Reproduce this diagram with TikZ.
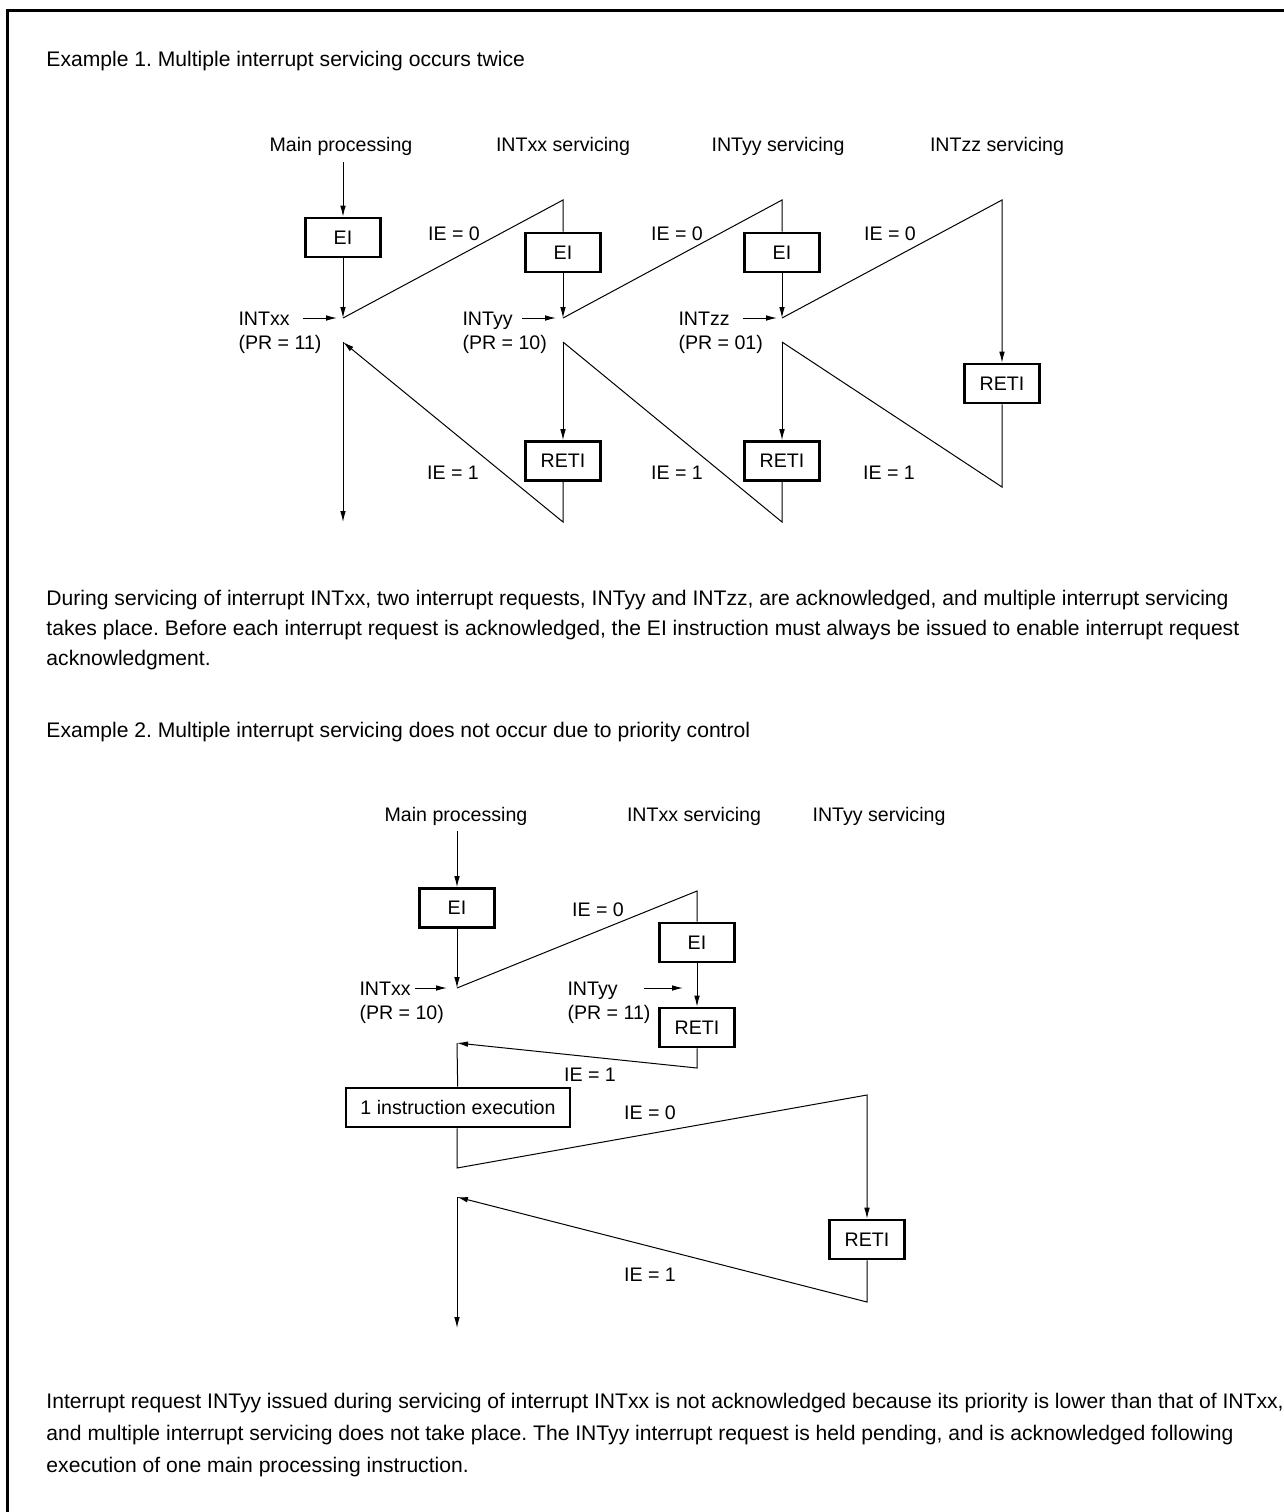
\documentclass[tikz,border=0pt]{standalone}
\usepackage{fontspec}
\setmainfont{Liberation Sans}
\usetikzlibrary{arrows.meta, positioning}

\begin{document}
\frenchspacing
\begin{tikzpicture}[x=0.5pt, y=-0.5pt, font=\fontsize{9.8}{15}\selectfont,
    line width=0.5pt, >={Latex[length=5.5pt,width=2.8pt]},
    instr/.style={draw, line width=1.3pt, minimum width=37.5pt, minimum height=19.5pt, inner sep=0pt},
    head/.style={anchor=base, inner sep=0pt},
    lbl/.style={anchor=base west, inner sep=0pt},
    ie/.style={anchor=base, inner sep=0pt},
    title/.style={anchor=base west, inner sep=0pt, font=\fontsize{10.55}{15}\selectfont},
    para/.style={anchor=base west, inner sep=0pt, align=left}]
  \useasboundingbox (0,0) rectangle (1284,1512);
  \draw[line width=1.5pt] (7,1512) -- (7,10) -- (1284,10);

  % Example 1
  \node[title] (ex1) at (46,66) {Example 1. Multiple interrupt servicing occurs twice};
  \node[head] (mp1) at (341,151) {Main processing};
  \node[head] (sx1) at (563,151) {INTxx servicing};
  \node[head] (sy1) at (778,151) {INTyy servicing};
  \node[head] (sz1) at (997,151) {INTzz servicing};

  \coordinate (s1) at (343,162);
  \node[instr] (ei1) at (343,237.5) {EI};
  \coordinate (j1) at (343,318);
  \coordinate (r1) at (343,342);
  \coordinate (e1) at (343,522);
  \coordinate (t2) at (563,200);
  \node[instr] (ei2) at (563,252.5) {EI};
  \coordinate (j2) at (563,318);
  \coordinate (r2) at (563,342);
  \node[instr] (reti2) at (563,461) {RETI};
  \coordinate (b2) at (563,522);
  \coordinate (t3) at (782,200);
  \node[instr] (ei3) at (782,252.5) {EI};
  \coordinate (j3) at (782,318);
  \coordinate (r3) at (782,342);
  \node[instr] (reti3) at (782,461) {RETI};
  \coordinate (b3) at (782,522);
  \coordinate (t4) at (1002,200);
  \node[instr] (reti4) at (1002,383.5) {RETI};
  \coordinate (b4) at (1002,487);

  \draw[->] (s1) -- (ei1);
  \draw[->] (ei1) -- (j1);
  \draw (j1) -- (t2) -- (ei2);
  \draw[->] (ei2) -- (j2);
  \draw (j2) -- (t3) -- (ei3);
  \draw[->] (ei3) -- (j3);
  \draw[->] (j3) -- (t4) -- (reti4);
  \draw (reti4) -- (b4) -- (r3);
  \draw[->] (r3) -- (reti3);
  \draw (reti3) -- (b3) -- (r2);
  \draw[->] (r2) -- (reti2);
  \draw[->] (reti2) -- (b2) -- (r1);
  \draw[->] (r1) -- (e1);

  % interrupt requests
  \node[lbl] (ixx1) at (238,325) {INTxx};
  \node[lbl] (prxx1) at (238,349) {(PR = 11)};
  \coordinate (qxx1) at (303,318);
  \draw[->] (qxx1) -- ([xshift=-3pt]j1);
  \node[lbl] (iyy1) at (462,325) {INTyy};
  \node[lbl] (pryy1) at (462,349) {(PR = 10)};
  \coordinate (qyy1) at (522,318);
  \draw[->] (qyy1) -- ([xshift=-3.5pt]j2);
  \node[lbl] (izz1) at (678,325) {INTzz};
  \node[lbl] (przz1) at (678,349) {(PR = 01)};
  \coordinate (qzz1) at (743,318);
  \draw[->] (qzz1) -- ([xshift=-2.5pt]j3);

  \node[ie] (ie01) at (454,240) {IE = 0};
  \node[ie] (ie02) at (677,240) {IE = 0};
  \node[ie] (ie03) at (890,240) {IE = 0};
  \node[ie] (ie11) at (453,479) {IE = 1};
  \node[ie] (ie12) at (677,479) {IE = 1};
  \node[ie] (ie13) at (889,479) {IE = 1};

  % base of a multi-line node is its last line
  \node[para, font=\fontsize{10.55}{15}\selectfont] (txt1) at (46,665) {During servicing of interrupt INTxx, two interrupt requests, INTyy and INTzz, are acknowledged, and multiple interrupt servicing\\
    takes place. Before each interrupt request is acknowledged, the EI instruction must always be issued to enable interrupt request\\
    acknowledgment.};

  % Example 2
  \node[title] (ex2) at (46,737) {Example 2. Multiple interrupt servicing does not occur due to priority control};
  \node[head] (mp2) at (456,821) {Main processing};
  \node[head] (sx2) at (694,821) {INTxx servicing};
  \node[head] (sy2) at (879,821) {INTyy servicing};

  \coordinate (s2) at (457,831);
  \node[instr] (ei4) at (457,908) {EI};
  \coordinate (j4) at (457,988);
  \coordinate (t5) at (697,891);
  \node[instr] (ei5) at (697,942.5) {EI};
  \node[instr] (reti5) at (697,1027.5) {RETI};
  \coordinate (b5) at (697,1068);
  \coordinate (r4) at (457,1043);
  \node[instr, minimum width=112pt] (one) at (458,1107.5) {1 instruction execution};
  \coordinate (b6) at (457,1168);
  \coordinate (t6) at (867,1095);
  \node[instr] (reti6) at (867,1239.5) {RETI};
  \coordinate (b7) at (867,1302);
  \coordinate (r5) at (457,1197);
  \coordinate (e2) at (457,1328);

  \draw[->] (s2) -- (ei4);
  \draw[->] (ei4) -- (j4);
  \draw (j4) -- (t5) -- (ei5);
  \draw[->] (ei5) -- (reti5);
  \draw[->] (reti5) -- (b5) -- (r4);
  \draw (r4) -- (one);
  \draw[->] (one.south -| r4) -- (b6) -- (t6) -- (reti6);
  \draw[->] (reti6) -- (b7) -- (r5);
  \draw[->] (r5) -- (e2);

  \node[lbl] (ixx2) at (359,995) {INTxx};
  \node[lbl] (prxx2) at (359,1019) {(PR = 10)};
  \coordinate (qxx2) at (415,988);
  \draw[->] (qxx2) -- ([xshift=-5pt]j4);
  \node[lbl] (iyy2) at (567,995) {INTyy};
  \node[lbl] (pryy2) at (567,1019) {(PR = 11)};
  \coordinate (qyy2) at (644,988);
  \draw[->] (qyy2) -- ([xshift=-7pt]t5 |- qyy2);

  \node[ie] (ie04) at (598,916) {IE = 0};
  \node[ie] (ie14) at (590,1081) {IE = 1};
  \node[ie] (ie05) at (650,1119) {IE = 0};
  \node[ie] (ie15) at (650,1281) {IE = 1};

  \node[para, font=\fontsize{10.55}{16}\selectfont] (txt2) at (46,1472) {Interrupt request INTyy issued during servicing of interrupt INTxx is not acknowledged because its priority is lower than that of INTxx,\\
    and multiple interrupt servicing does not take place. The INTyy interrupt request is held pending, and is acknowledged following\\
    execution of one main processing instruction.};
\end{tikzpicture}
\end{document}
